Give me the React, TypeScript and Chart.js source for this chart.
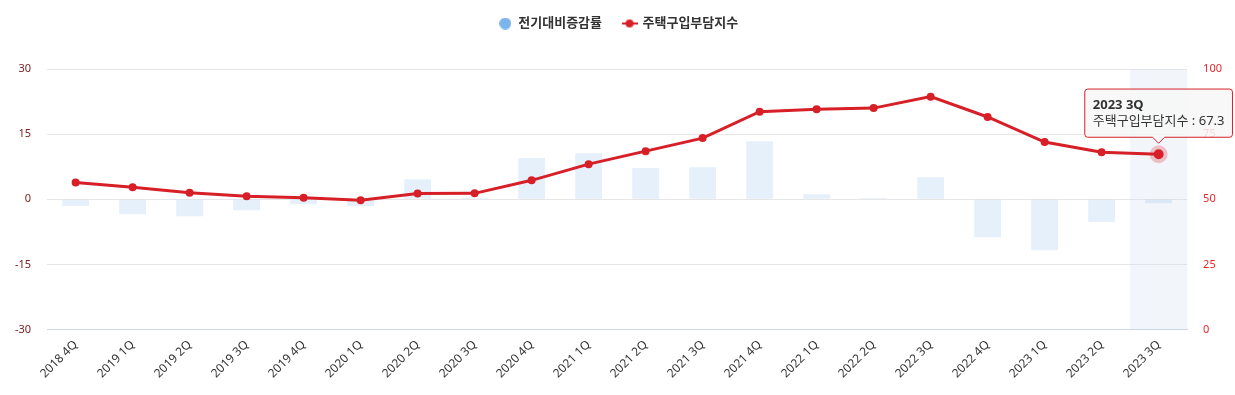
import { useEffect, useRef } from 'react';
import { Chart, registerables } from 'chart.js';

Chart.register(...registerables);

const categories = [
  '2018 4Q', '2019 1Q', '2019 2Q', '2019 3Q', '2019 4Q',
  '2020 1Q', '2020 2Q', '2020 3Q', '2020 4Q', '2021 1Q',
  '2021 2Q', '2021 3Q', '2021 4Q', '2022 1Q', '2022 2Q',
  '2022 3Q', '2022 4Q', '2023 1Q', '2023 2Q', '2023 3Q',
];
const changeRate = [
  -1.5, -3.4, -3.9, -2.5, -1.1,
  -1.5, 4.6, 0.3, 9.5, 10.6,
  7.2, 7.4, 13.4, 1.2, 0.3,
  5.1, -8.7, -11.7, -5.2, -0.9,
];
const affordIndex = [
  56.5, 54.6, 52.5, 51.2, 50.6,
  49.7, 52.2, 52.3, 57.3, 63.5,
  68.5, 73.5, 83.6, 84.6, 85.0,
  89.4, 81.6, 72.0, 68.1, 67.3,
];
const leftTicks = [-30, -15, 0, 15, 30];
const rightTicks = [0, 25, 50, 75, 100];
const barLabel = '전기대비증감률';
const lineLabel = '주택구입부담지수';
const activeIndex = 19;

const FONT = '"Noto Sans", "Noto Sans CJK KR", sans-serif';
const BAR_LEGEND = '#7cb5ec';
const BAR_FILL = 'rgba(124,181,236,0.2)';
const LINE = '#d71f27';
const LEGEND_HEIGHT = 73;

function makeCircle(): HTMLCanvasElement {
  const c = document.createElement('canvas');
  c.width = 12; c.height = 12;
  const g = c.getContext('2d')!;
  g.fillStyle = BAR_LEGEND;
  g.beginPath(); g.arc(6, 6, 6, 0, Math.PI * 2); g.fill();
  return c;
}
function makeLineSym(): HTMLCanvasElement {
  const c = document.createElement('canvas');
  c.width = 16; c.height = 10;
  const g = c.getContext('2d')!;
  g.strokeStyle = LINE; g.lineWidth = 2;
  g.beginPath(); g.moveTo(0, 5); g.lineTo(16, 5); g.stroke();
  g.fillStyle = LINE;
  g.beginPath(); g.arc(8, 5, 4, 0, Math.PI * 2); g.fill();
  return c;
}

const legendSpacer = {
  id: 'legendSpacer',
  beforeLayout(chart: any) {
    const legend = chart.legend;
    if (!legend || legend.__patched) return;
    const orig = legend.fit.bind(legend);
    legend.fit = function () { orig(); this.height = LEGEND_HEIGHT; };
    legend.__patched = true;
  },
};

const crosshairBand = {
  id: 'crosshairBand',
  beforeDatasetsDraw(chart: any) {
    const x = chart.scales.x;
    const area = chart.chartArea;
    const w = x.width / categories.length;
    const cx = x.getPixelForValue(activeIndex);
    const ctx = chart.ctx;
    ctx.save();
    ctx.fillStyle = 'rgba(204,214,235,0.25)';
    ctx.fillRect(cx - w / 2, area.top, w, area.bottom - area.top);
    ctx.restore();
  },
};

export default function App() {
  const ref = useRef<HTMLCanvasElement | null>(null);

  useEffect(() => {
    document.body.style.margin = '0';
    const canvas = ref.current;
    if (!canvas) return;
    Chart.defaults.font.family = FONT;
    const circleImg = makeCircle();
    const lineImg = makeLineSym();

    const chart = new Chart(canvas, {
      type: 'bar',
      data: {
        labels: categories,
        datasets: [
          {
            type: 'bar',
            label: barLabel,
            data: changeRate,
            backgroundColor: BAR_FILL,
            hoverBackgroundColor: BAR_FILL,
            borderWidth: 0,
            yAxisID: 'y',
            categoryPercentage: 1,
            barPercentage: 0.47,
            order: 1,
          },
          {
            type: 'line',
            label: lineLabel,
            data: affordIndex,
            yAxisID: 'y1',
            borderColor: LINE,
            borderWidth: 3,
            backgroundColor: LINE,
            pointRadius: 4,
            pointBackgroundColor: LINE,
            pointBorderWidth: 0,
            pointHoverRadius: 5,
            pointHoverBackgroundColor: LINE,
            pointHoverBorderColor: 'rgba(215,31,39,0.25)',
            pointHoverBorderWidth: 8,
            tension: 0,
            order: 0,
          },
        ],
      },
      options: {
        animation: false,
        responsive: true,
        maintainAspectRatio: false,
        events: [],
        layout: { padding: { top: -4, left: -1, right: -3, bottom: 6 } },
        scales: {
          x: {
            grid: { display: false, drawTicks: false },
            border: { display: true, color: '#ccd6eb', width: 1 },
            ticks: {
              autoSkip: false,
              maxRotation: 45,
              minRotation: 45,
              color: '#333333',
              padding: 8,
              font: { size: 12, family: FONT },
            },
          },
          y: {
            position: 'left',
            min: leftTicks[0],
            max: leftTicks[leftTicks.length - 1],
            ticks: {
              stepSize: leftTicks[1] - leftTicks[0],
              color: '#7a2020',
              padding: 16,
              font: { size: 11, family: FONT },
            },
            grid: { color: '#e6e6e6', drawTicks: false },
            border: { display: false },
          },
          y1: {
            position: 'right',
            min: rightTicks[0],
            max: rightTicks[rightTicks.length - 1],
            ticks: {
              stepSize: rightTicks[1] - rightTicks[0],
              color: '#e5262b',
              padding: 16,
              font: { size: 11, family: FONT },
            },
            grid: { display: false, drawTicks: false },
            border: { display: false },
          },
        },
        plugins: {
          legend: {
            position: 'top',
            labels: {
              usePointStyle: true,
              boxWidth: 14,
              padding: 21,
              color: '#333333',
              font: { size: 13, weight: 'bold', family: FONT },
              generateLabels: () => [
                { text: barLabel, pointStyle: circleImg as any, fillStyle: BAR_LEGEND, strokeStyle: BAR_LEGEND, lineWidth: 0, hidden: false, datasetIndex: 0, fontColor: '#333333' },
                { text: lineLabel, pointStyle: lineImg as any, fillStyle: LINE, strokeStyle: LINE, lineWidth: 0, hidden: false, datasetIndex: 1, fontColor: '#333333' },
              ] as any,
            },
          },
          tooltip: {
            enabled: true,
            backgroundColor: 'rgba(247,247,247,0.85)',
            borderColor: LINE,
            borderWidth: 1,
            titleColor: '#333333',
            bodyColor: '#333333',
            titleFont: { size: 13, weight: 'bold', family: FONT },
            bodyFont: { size: 13, family: FONT },
            titleMarginBottom: 1,
            padding: 8,
            caretSize: 6,
            caretPadding: 11,
            cornerRadius: 3,
            displayColors: false,
            xAlign: 'center',
            yAlign: 'bottom',
            callbacks: {
              title: (items: any[]) => (items.length ? items[0].label : ''),
              label: (ctx: any) => `${ctx.dataset.label} : ${ctx.parsed.y}`,
            },
          },
        },
      },
      plugins: [legendSpacer, crosshairBand],
    } as any);

    const pt = chart.getDatasetMeta(1).data[activeIndex] as any;
    const active = [{ datasetIndex: 1, index: activeIndex }];
    chart.setActiveElements(active);
    chart.tooltip?.setActiveElements(active, { x: pt.x, y: pt.y });
    chart.update();

    return () => chart.destroy();
  }, []);

  return (
    <div style={{ position: 'relative', width: '1235px', height: '395px' }}>
      <canvas ref={ref} />
    </div>
  );
}
